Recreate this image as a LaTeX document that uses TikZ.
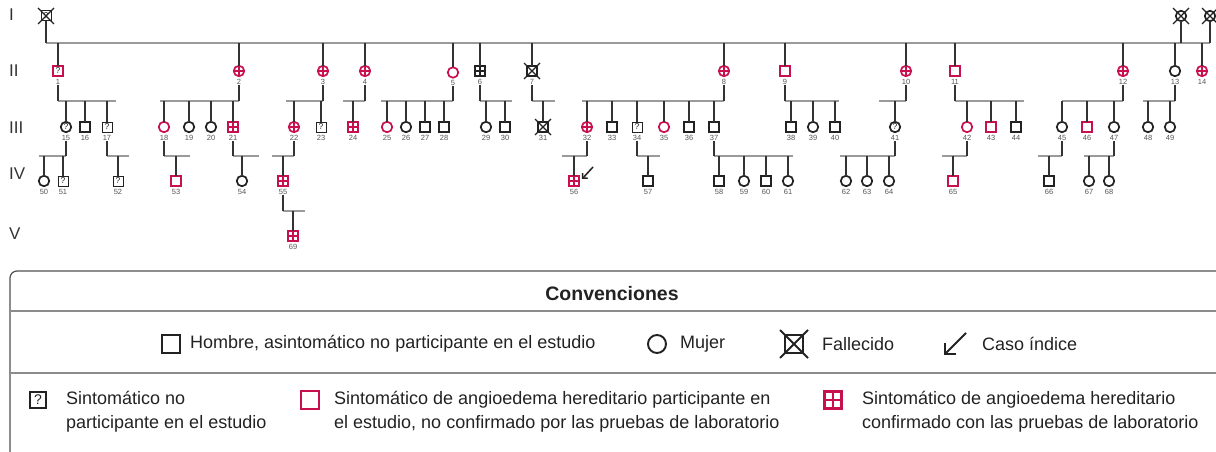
\documentclass[tikz,border=0pt]{standalone}
\usepackage{fontspec}
\setmainfont{Liberation Sans}
\usetikzlibrary{calc,arrows.meta}
\definecolor{ink}{HTML}{222222}
\definecolor{hae}{HTML}{C8104E}
\definecolor{sibc}{HTML}{9A9A9A}
\definecolor{descc}{HTML}{333333}
\definecolor{numc}{HTML}{555555}
\definecolor{framec}{HTML}{505050}
\definecolor{sepc}{HTML}{8C8C8C}
\newcommand\pedfam[5]{%
  \coordinate (s#1a) at (#2,#4);
  \coordinate (s#1b) at (#3,#4);
  \draw[sib] (s#1a) -- (s#1b);
  \draw[desc] (l#1.south) -- (l#1.south |- s#1a);
  \foreach \c in {#5} {\draw[desc] (s#1a -| p\c.north) -- (p\c.north);}
}
\begin{document}
\begin{tikzpicture}[x=1pt,y=-1pt,
  sym/.style={inner sep=0pt,outer sep=0pt,line width=1.7pt,draw=ink,fill=white},
  M/.style={sym,rectangle,minimum size=10pt},
  F/.style={sym,circle,minimum size=10.5pt},
  Mr/.style={M,draw=hae},
  Fr/.style={F,draw=hae},
  crossp/.style={path picture={\draw[draw=#1,line width=1.8pt] (path picture bounding box.north) -- (path picture bounding box.south) (path picture bounding box.west) -- (path picture bounding box.east);}},
  qp/.style={path picture={\node[inner sep=0pt,font=\fontsize{8.5}{8.5}\selectfont,text=ink] at (path picture bounding box.center) {?};}},
  Mc/.style={Mr,crossp=hae},
  Fc/.style={Fr,crossp=hae},
  Mb/.style={M,crossp=ink},
  Mq/.style={M,line width=1pt,qp},
  Fq/.style={F,qp},
  Mrq/.style={Mr,qp},
  num/.style={font=\fontsize{7.5}{7.5}\selectfont,text=numc,inner sep=0.5pt},
  gen/.style={font=\fontsize{17}{17}\selectfont,text=descc,anchor=west,inner sep=0pt},
  sib/.style={draw=sibc,line width=1.4pt},
  desc/.style={draw=descc,line width=1.2pt},
  xl/.style={draw=ink,line width=1.2pt},
  ptr/.style={draw=ink,line width=1.5pt,-{Straight Barb[angle=90:5pt]}},
  lgtxt/.style={font=\fontsize{18}{24}\selectfont,text=ink,align=left,anchor=west,inner sep=0pt},
  lgM/.style={rectangle,draw=ink,line width=1.9pt,minimum size=18pt,inner sep=0pt},
]
\useasboundingbox (0,0) rectangle (1216,452);

% generation labels
\node[gen] (gI) at (9,15) {I};
\node[gen] (gII) at (9,71) {II};
\node[gen] (gIII) at (9,128) {III};
\node[gen] (gIV) at (9,174) {IV};
\node[gen] (gV) at (9,234) {V};

% generation I
\node[Mq] (pI1) at (46,16) {};
\node[F] (pc1) at (1181,16) {};
\node[F] (pc2) at (1210,16) {};

% generation II
\foreach \i/\x/\t in {1/58/Mrq,2/239/Fc,3/323/Fc,4/365/Fc,6/480/Mb,7/532/M,8/724/Fc,9/785/Mr,10/906/Fc,11/955/Mr,12/1123/Fc,13/1175/F,14/1202/Fc}
  {\node[\t] (p\i) at (\x,71) {}; \node[num] (l\i) at (\x,81.5) {\i};}
\node[Fr] (p5) at (453,72.5) {}; \node[num] (l5) at (453,83) {5};

% generation III
\foreach \i/\x/\t in {15/66/Fq,16/85/M,17/107/Mq,18/164/Fr,19/189/F,20/211/F,21/233/Mc,22/294/Fc,23/321/Mq,24/353/Mc,25/387/Fr,26/406/F,27/425/M,28/444/M,29/486/F,30/505/M,31/543/M,32/587/Fc,33/612/M,34/637/Mq,35/664/Fr,36/689/M,37/714/M,38/791/M,39/813/F,40/835/M,41/895/Fq,42/967/Fr,43/991/Mr,44/1016/M,45/1062/F,46/1087/Mr,47/1114/F,48/1148/F,49/1170/F}
  {\node[\t] (p\i) at (\x,127) {}; \node[num] (l\i) at (\x,137.5) {\i};}

% generation IV
\foreach \i/\x/\t in {50/44/F,51/63/Mq,52/118/Mq,53/176/Mr,54/242/F,55/283/Mc,56/574/Mc,57/648/M,58/719/M,59/744/F,60/766/M,61/788/F,62/846/F,63/867/F,64/889/F,65/953/Mr,66/1049/M,67/1089/F,68/1109/F}
  {\node[\t] (p\i) at (\x,181) {}; \node[num] (l\i) at (\x,191.5) {\i};}

% generation V
\node[Mc] (p69) at (293,236) {}; \node[num] (l69) at (293,246.5) {69};

% deceased marks
\foreach \n in {pI1,p7,p31,pc1,pc2}
  \draw[xl] ($(\n.center)+(-8,-8)$) -- ($(\n.center)+(8,8)$) ($(\n.center)+(-8,8)$) -- ($(\n.center)+(8,-8)$);

% top sibship
\coordinate (topL) at (46,43);
\coordinate (topR) at (1210,43);
\draw[sib] (topL) -- (topR);
\draw[desc] (pI1.south) -- (pI1.south |- topL);
\foreach \c in {1,...,14} {\draw[desc] (topL -| p\c.north) -- (p\c.north);}
\draw[desc] (pc1.south) -- (pc1.south |- topL);
\draw[desc] (pc2.south) -- (pc2.south |- topL);

% generation II families
\pedfam{1}{58}{116}{101}{15,16,17}
\pedfam{2}{160}{239}{101}{18,19,20,21}
\pedfam{3}{286}{323}{101}{22,23}
\pedfam{4}{343}{365}{101}{24}
\pedfam{5}{381}{453}{101}{25,26,27,28}
\pedfam{6}{480}{512}{101}{29,30}
\pedfam{7}{532}{555}{101}{31}
\pedfam{8}{582}{724}{101}{32,33,34,35,36,37}
\pedfam{9}{785}{839}{101}{38,39,40}
\pedfam{10}{879}{906}{101}{41}
\pedfam{11}{955}{1024}{101}{42,43,44}
\pedfam{12}{1062}{1123}{101}{45,46,47}
\pedfam{13}{1143}{1175}{101}{48,49}
% generation III families
\pedfam{15}{39}{66}{156}{50,51}
\pedfam{17}{107}{129}{156}{52}
\pedfam{18}{164}{190}{156}{53}
\pedfam{21}{233}{259}{156}{54}
\pedfam{22}{272}{294}{156}{55}
\pedfam{32}{562}{587}{156}{56}
\pedfam{34}{637}{660}{156}{57}
\pedfam{37}{714}{793}{156}{58,59,60,61}
\pedfam{41}{840}{895}{156}{62,63,64}
\pedfam{42}{942}{967}{156}{65}
\pedfam{45}{1038}{1062}{156}{66}
\pedfam{47}{1084}{1114}{156}{67,68}
% generation IV family
\pedfam{55}{283}{305}{211}{69}

% index case arrow
\coordinate (arr56) at (593,167);
\draw[ptr] (arr56) -- ($(p56.east)+(3,-2)$);

% legend frame
\draw[draw=framec,line width=1.2pt,rounded corners=7pt] (1240,271) -- (10,271) -- (10,480);
\draw[draw=sepc,line width=1.3pt] (10,311) -- (1240,311);
\draw[draw=sepc,line width=1.3pt] (10,373) -- (1240,373);
\node[font=\fontsize{19.5}{19.5}\selectfont\bfseries,text=ink] (conv) at (612,294) {Convenciones};

% legend row 1
\node[lgM] (lgm) at (171,344) {};
\node[lgtxt] (lgmt) at (190,344) {Hombre, asintomático no participante en el estudio};
\node[circle,draw=ink,line width=1.9pt,minimum size=18pt,inner sep=0pt] (lgf) at (657,344) {};
\node[lgtxt] (lgft) at (680,344) {Mujer};
\node[lgM] (lgd) at (794,344) {};
\draw[xl,line width=1.8pt] ($(lgd.center)+(-14,-14)$) -- ($(lgd.center)+(14,14)$) ($(lgd.center)+(-14,14)$) -- ($(lgd.center)+(14,-14)$);
\node[lgtxt] (lgdt) at (822,344) {Fallecido};
\coordinate (lga1) at (966,333);
\coordinate (lga2) at (944,355);
\draw[draw=ink,line width=1.9pt,-{Straight Barb[angle=90:11pt]}] (lga1) -- (lga2);
\node[lgtxt] (lgat) at (982,344) {Caso índice};

% legend row 2
\node[rectangle,draw=ink,line width=1.2pt,minimum size=16pt,inner sep=0pt,font=\fontsize{14}{14}\selectfont,text=ink] (lgq) at (38,400) {?};
\node[lgtxt] (lgqt) at (66,412) {Sintomático no\\participante en el estudio};
\node[lgM,draw=hae,line width=2.4pt] (lgr) at (310,400) {};
\node[lgtxt] (lgrt) at (334,412) {Sintomático de angioedema hereditario participante en\\el estudio, no confirmado por las pruebas de laboratorio};
\node[rectangle,fill=hae,minimum size=20pt,inner sep=0pt,
  path picture={\foreach \sx in {-1,1}{\foreach \sy in {-1,1}{\fill[white] ($(path picture bounding box.center)+(\sx*4.1-2.8,\sy*4.1-2.8)$) rectangle ++(5.6,5.6);}}}] (lgc) at (833,400) {};
\node[lgtxt] (lgct) at (862,412) {Sintomático de angioedema hereditario\\confirmado con las pruebas de laboratorio};
\end{tikzpicture}
\end{document}
